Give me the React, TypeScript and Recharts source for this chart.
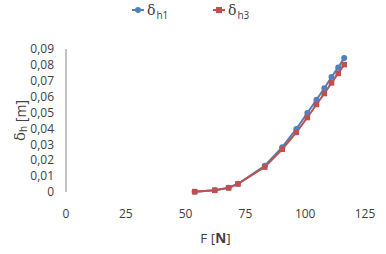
import { LineChart, Line, XAxis, YAxis, Legend, Label } from 'recharts';

const forceN = [53.8, 62.2, 68.0, 71.9, 83.1, 90.4, 96.3, 100.9, 104.7, 108.0, 111.0, 113.8, 116.3];
const deltaH1 = [0.0002, 0.0011, 0.0027, 0.0052, 0.0165, 0.0282, 0.0397, 0.0497, 0.058, 0.0653, 0.0724, 0.0784, 0.0844];
const deltaH3 = [0.0002, 0.0011, 0.0026, 0.0051, 0.0157, 0.0269, 0.0375, 0.0469, 0.0551, 0.062, 0.0687, 0.0747, 0.0802];
const xTicks = [0, 25, 50, 75, 100, 125];
const yTicks = [0, 0.01, 0.02, 0.03, 0.04, 0.05, 0.06, 0.07, 0.08, 0.09];

const data = forceN.map((f, i) => ({ f, h1: deltaH1[i], h3: deltaH3[i] }));

const BLUE = '#4f81bd';
const RED = '#c0504d';
const TEXT = '#404040';
const FONT = '"Open Sans", sans-serif';

const SquareDot = (props: any) => {
  const { cx, cy } = props;
  if (cx == null || cy == null) return null;
  return <rect x={cx - 2.8} y={cy - 2.8} width={5.6} height={5.6} fill={RED} />;
};

function LegendItem({ left, color, square, sub }: { left: number; color: string; square?: boolean; sub: string }) {
  return (
    <div style={{ position: 'absolute', left, top: 2, display: 'flex', alignItems: 'center' }}>
      <svg width={12} height={8} style={{ marginRight: 3 }}>
        <line x1={0} y1={4} x2={12} y2={4} stroke={color} strokeWidth={2} />
        {square ? <rect x={3} y={1} width={6} height={6} fill={color} /> : <circle cx={6} cy={4} r={3} fill={color} />}
      </svg>
      <span style={{ fontSize: 14, color: TEXT, fontFamily: '"DejaVu Serif", serif' }}>δ</span>
      <span style={{ fontSize: 10, color: TEXT, position: 'relative', top: 5, marginLeft: 1 }}>{sub}</span>
    </div>
  );
}

const renderLegend = () => (
  <div style={{ position: 'relative', height: 22, width: 386, fontFamily: FONT }}>
    <LegendItem left={132} color={BLUE} sub="h1" />
    <LegendItem left={213} color={RED} square sub="h3" />
  </div>
);

const YTitle = (props: any) => {
  const { viewBox } = props;
  const cx = 20;
  const cy = viewBox.y + viewBox.height / 2;
  return (
    <text
      x={cx}
      y={cy}
      transform={`rotate(-90 ${cx} ${cy})`}
      textAnchor="middle"
      dominantBaseline="central"
      fill={TEXT}
      fontFamily={FONT}
      fontSize={14}
    >
      <tspan fontFamily='"DejaVu Serif", serif' fontSize={15}>δ</tspan>
      <tspan fontSize={10} dy={3}>h</tspan>
      <tspan dy={-3}> [m]</tspan>
    </text>
  );
};

const XTitle = (props: any) => {
  const { viewBox } = props;
  const cx = viewBox.x + viewBox.width / 2;
  return (
    <text x={cx} y={243} textAnchor="middle" fill={TEXT} fontFamily={FONT} fontSize={13.5}>
      F [<tspan fontWeight="bold">N</tspan>]
    </text>
  );
};

export default function App() {
  return (
    <div style={{ position: 'absolute', left: 0, top: 0 }}>
      <style>{`body{margin:0;background:#fff}`}</style>
      <LineChart width={386} height={254} data={data} margin={{ top: 27, right: 21, bottom: 0, left: 0 }}>
        <XAxis
          type="number"
          dataKey="f"
          domain={[0, 125]}
          ticks={xTicks}
          interval={0}
          axisLine={false}
          tickLine={false}
          tickSize={0}
          tickMargin={17}
          height={62}
          tick={{ fill: TEXT, fontSize: 12, fontFamily: FONT }}
        >
          <Label content={<XTitle />} />
        </XAxis>
        <YAxis
          type="number"
          domain={[0, 0.09]}
          ticks={yTicks}
          interval={0}
          width={66}
          axisLine={{ stroke: '#868686' }}
          tickLine={false}
          tickSize={0}
          tickMargin={12}
          tickFormatter={(v: number) => (v === 0 ? '0' : v.toFixed(2).replace('.', ','))}
          tick={{ fill: TEXT, fontSize: 12, fontFamily: FONT }}
        >
          <Label content={<YTitle />} />
        </YAxis>
        <Legend verticalAlign="top" wrapperStyle={{ top: 0, left: 0 }} content={renderLegend} />
        <Line
          dataKey="h1"
          stroke={BLUE}
          strokeWidth={2}
          dot={{ r: 3, fill: BLUE, stroke: BLUE, strokeWidth: 0 }}
          activeDot={false}
          isAnimationActive={false}
        />
        <Line
          dataKey="h3"
          stroke={RED}
          strokeWidth={2}
          dot={<SquareDot />}
          activeDot={false}
          isAnimationActive={false}
        />
      </LineChart>
    </div>
  );
}
